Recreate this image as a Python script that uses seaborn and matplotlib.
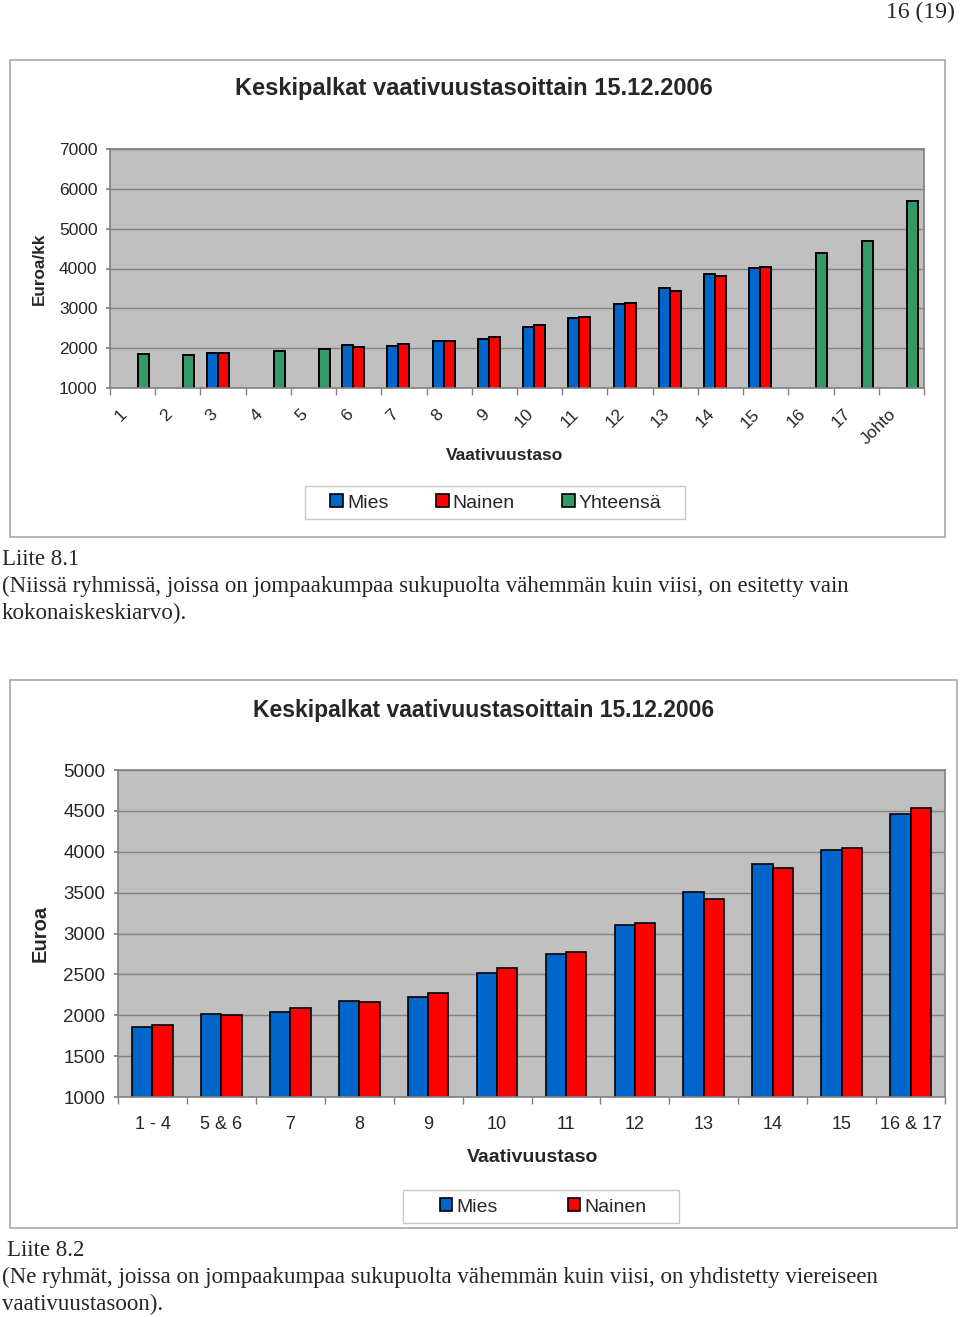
import numpy as np
import pandas as pd
import seaborn as sns
import matplotlib
matplotlib.use("Agg")
import matplotlib.pyplot as plt
from matplotlib.patches import Rectangle, Patch
from matplotlib.transforms import ScaledTranslation

# ---------------- data ----------------
top_levels = ["1", "2", "3", "4", "5", "6", "7", "8", "9", "10", "11", "12",
              "13", "14", "15", "16", "17", "Johto"]
top_mies = [None, None, 1880, None, None, 2090, 2045, 2170, 2230, 2530, 2755,
            3105, 3510, 3855, 4020, None, None, None]
top_nainen = [None, None, 1870, None, None, 2030, 2095, 2170, 2280, 2580, 2775,
              3140, 3425, 3800, 4045, None, None, None]
top_yht = [1845, 1820, None, 1920, 1980, None, None, None, None, None, None,
           None, None, None, None, 4400, 4690, 5695]

bot_levels = ["1 - 4", "5 & 6", "7", "8", "9", "10", "11", "12", "13", "14",
              "15", "16 & 17"]
bot_mies = [1855, 2015, 2045, 2175, 2220, 2520, 2755, 3100, 3505, 3850, 4020, 4460]
bot_nainen = [1885, 2000, 2090, 2160, 2275, 2575, 2770, 3125, 3420, 3800, 4045, 4530]

top_yticks = [1000, 2000, 3000, 4000, 5000, 6000, 7000]
bot_yticks = [1000, 1500, 2000, 2500, 3000, 3500, 4000, 4500, 5000]

series_names = ["Mies", "Nainen", "Yhteensä"]
colors = {"Mies": "#0066CC", "Nainen": "#FF0000", "Yhteensä": "#339966"}

title_txt = "Keskipalkat vaativuustasoittain 15.12.2006"

# ---------------- setup ----------------
sns.set_theme(style="white")
plt.rcParams["font.family"] = ["Liberation Sans", "DejaVu Sans"]

W, H = 960, 1317
fig = plt.figure(figsize=(W / 100, H / 100), dpi=100)
fig.patch.set_facecolor("white")


def fx(px):
    return px / W


def fy(py):
    return 1 - py / H


def box(x0, y0, x1, y1, color, lw):
    fig.add_artist(Rectangle((fx(x0), fy(y1)), fx(x1 - x0), (y1 - y0) / H,
                             transform=fig.transFigure, fill=False,
                             edgecolor=color, linewidth=lw))


def long_df(levels, series):
    rows = []
    for name, vals in series:
        for lev, v in zip(levels, vals):
            if v is not None:
                rows.append({"taso": lev, "sarja": name, "arvo": v})
    return pd.DataFrame(rows)


def style_axes(ax, ymin, ymax, yticks, ytick_fs):
    ax.set_facecolor("#C0C0C0")
    ax.set_ylim(ymin, ymax)
    ax.set_yticks(yticks)
    ax.set_yticklabels([str(t) for t in yticks], fontsize=ytick_fs)
    ax.grid(axis="y", color="#808080", linewidth=1.0)
    ax.set_axisbelow(True)
    for s in ax.spines.values():
        s.set_color("#808080")
        s.set_linewidth(1.2)
    ax.tick_params(axis="y", length=3, color="#808080", pad=6, left=True)
    n = len(ax.get_xticks())
    ax.set_xticks(np.arange(-0.5, n, 1.0), minor=True)
    ax.tick_params(axis="x", which="minor", length=5, color="#808080", bottom=True)
    ax.tick_params(axis="x", which="major", length=0)
    ax.set_xlim(-0.5, n - 0.5)


# ---------------- boxes ----------------
box(10, 60, 945, 537, "#a8a8a8", 1.2)
box(10, 680, 957, 1228, "#a8a8a8", 1.2)

# ---------------- top chart ----------------
ax1 = fig.add_axes([fx(110), fy(388), fx(814), 239 / H])
df1 = long_df(top_levels, [("Mies", top_mies), ("Nainen", top_nainen), ("Yhteensä", top_yht)])
sns.barplot(data=df1, x="taso", y="arvo", hue="sarja", order=top_levels,
            hue_order=series_names, palette=colors, saturation=1, width=0.73, dodge=True,
            errorbar=None, edgecolor="black", linewidth=1.4, ax=ax1, legend=False)
style_axes(ax1, 1000, 7000, top_yticks, 12.5)
ax1.set_xlabel("")
ax1.set_ylabel("")
ax1.set_xticks(range(len(top_levels)))
ax1.set_xticklabels(top_levels, rotation=45, ha="right", va="center",
                    rotation_mode="anchor", fontsize=12.5)
ax1.tick_params(axis="x", which="major", pad=17)
off = ScaledTranslation(-8 / 100, 0, fig.dpi_scale_trans)
for lab in ax1.get_xticklabels():
    lab.set_transform(lab.get_transform() + off)

fig.text(fx(474), fy(89), title_txt, ha="center", va="center", fontsize=17, fontweight="bold")
fig.text(fx(504), fy(456), "Vaativuustaso", ha="center", va="center", fontsize=12.5, fontweight="bold")
fig.text(fx(39), fy(269), "Euroa/kk", ha="center", va="center", rotation=90,
         fontsize=12.3, fontweight="bold")

box(305, 486, 685, 519, "#c8c8c8", 1.0)
h1 = [Patch(facecolor=colors[n], edgecolor="black", linewidth=1.2) for n in series_names]
leg1 = fig.legend(h1, series_names, loc="center", bbox_to_anchor=(fx(496), fy(503)),
                  ncol=3, fontsize=14, frameon=False,
                  handlelength=0.65, handleheight=0.65, handletextpad=0.2,
                  columnspacing=2.45, borderpad=0.2)

# ---------------- bottom chart ----------------
ax2 = fig.add_axes([fx(118), fy(1097), fx(827), 327 / H])
df2 = long_df(bot_levels, [("Mies", bot_mies), ("Nainen", bot_nainen)])
sns.barplot(data=df2, x="taso", y="arvo", hue="sarja", order=bot_levels,
            hue_order=series_names[:2], palette=colors, saturation=1, width=0.59, dodge=True,
            errorbar=None, edgecolor="black", linewidth=1.2, ax=ax2, legend=False)
style_axes(ax2, 1000, 5000, bot_yticks, 13.5)
ax2.set_xlabel("")
ax2.set_ylabel("")
ax2.set_xticks(range(len(bot_levels)))
ax2.set_xticklabels(bot_levels, fontsize=13)
ax2.tick_params(axis="x", which="major", pad=14)

fig.text(fx(484), fy(710), title_txt, ha="center", va="center", fontsize=16.5, fontweight="bold")
fig.text(fx(533), fy(1158), "Vaativuustaso", ha="center", va="center", fontsize=14, fontweight="bold")
fig.text(fx(40), fy(933), "Euroa", ha="center", va="center", rotation=90,
         fontsize=14.5, fontweight="bold")

box(403, 1190, 679, 1223, "#c8c8c8", 1.0)
h2 = [Patch(facecolor=colors[n], edgecolor="black", linewidth=1.2) for n in series_names[:2]]
leg2 = fig.legend(h2, series_names[:2], loc="center", bbox_to_anchor=(fx(543), fy(1207)),
                  ncol=2, fontsize=14, frameon=False,
                  handlelength=0.65, handleheight=0.65, handletextpad=0.2,
                  columnspacing=3.6, borderpad=0.2)

# ---------------- page text ----------------
serif = ["Liberation Serif", "DejaVu Serif"]
fs_body = 16.5
fig.text(fx(955), fy(12), "16 (19)", ha="right", va="center", fontsize=17, family=serif)
fig.text(fx(2), fy(559), "Liite 8.1", ha="left", va="center", fontsize=fs_body, family=serif)
fig.text(fx(2), fy(586), "(Niissä ryhmissä, joissa on jompaakumpaa sukupuolta vähemmän kuin viisi, on esitetty vain",
         ha="left", va="center", fontsize=fs_body, family=serif)
fig.text(fx(2), fy(613), "kokonaiskeskiarvo).", ha="left", va="center", fontsize=fs_body, family=serif)
fig.text(fx(7), fy(1250), "Liite 8.2", ha="left", va="center", fontsize=fs_body, family=serif)
fig.text(fx(2), fy(1277), "(Ne ryhmät, joissa on jompaakumpaa sukupuolta vähemmän kuin viisi, on yhdistetty viereiseen",
         ha="left", va="center", fontsize=fs_body, family=serif)
fig.text(fx(2), fy(1304), "vaativuustasoon).", ha="left", va="center", fontsize=fs_body, family=serif)

fig.savefig("out.png", dpi=100, facecolor="white")
